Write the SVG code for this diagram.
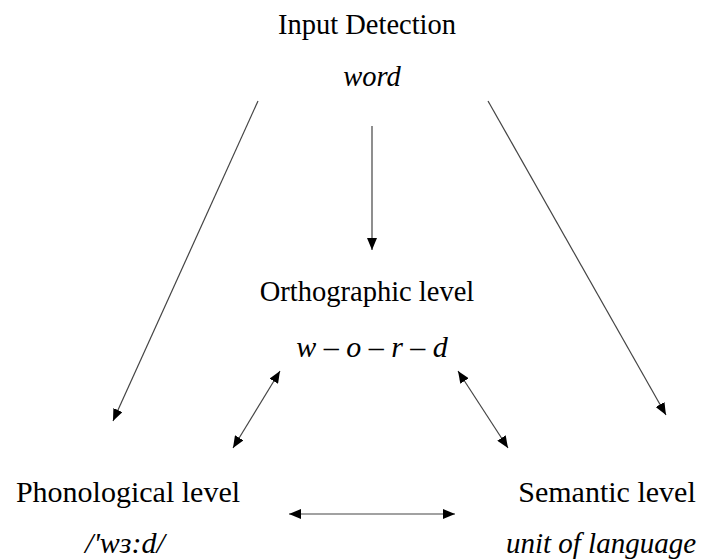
<svg xmlns="http://www.w3.org/2000/svg" width="702" height="560" viewBox="0 0 702 560">
  <style>
    text { font-family: 'Liberation Serif', 'Times New Roman', serif; font-size: 30px; fill: #000; text-anchor: middle; }
    .top { font-size: 28.5px; }
    .it { font-style: italic; }
    .edge { stroke: #444; stroke-width: 1.2; fill: none; }
  </style>
  <defs>
    <marker id="head" viewBox="0 0 12 10" refX="12" refY="5" markerWidth="12" markerHeight="10" markerUnits="userSpaceOnUse" orient="auto-start-reverse">
      <path d="M0,0 L12,5 L0,10 z" fill="#000"/>
    </marker>
  </defs>
  <rect width="702" height="560" fill="#fff"/>

  <g id="input">
    <text class="top" x="367" y="34">Input Detection</text>
    <text class="top it" x="372" y="86">word</text>
  </g>
  <g id="orthographic">
    <text class="top" x="367" y="301">Orthographic level</text>
    <text class="it" x="372" y="357">w – o – r – d</text>
  </g>
  <g id="phonological">
    <text x="128" y="502">Phonological level</text>
    <text class="it" x="125" y="553">/'wɜ:d/</text>
  </g>
  <g id="semantic">
    <text x="607" y="502">Semantic level</text>
    <text class="it" x="601" y="553" style="font-size:29px">unit of language</text>
  </g>

  <g id="connectors">
    <line class="edge" x1="372" y1="126" x2="372" y2="250" marker-end="url(#head)"/>
    <line class="edge" x1="258" y1="101" x2="113" y2="421" marker-end="url(#head)"/>
    <line class="edge" x1="488" y1="101" x2="666" y2="415" marker-end="url(#head)"/>
    <line class="edge" x1="280" y1="371" x2="233" y2="448" marker-start="url(#head)" marker-end="url(#head)"/>
    <line class="edge" x1="458" y1="371" x2="508" y2="448" marker-start="url(#head)" marker-end="url(#head)"/>
    <line class="edge" x1="289" y1="514" x2="455" y2="514" marker-start="url(#head)" marker-end="url(#head)"/>
  </g>
</svg>
